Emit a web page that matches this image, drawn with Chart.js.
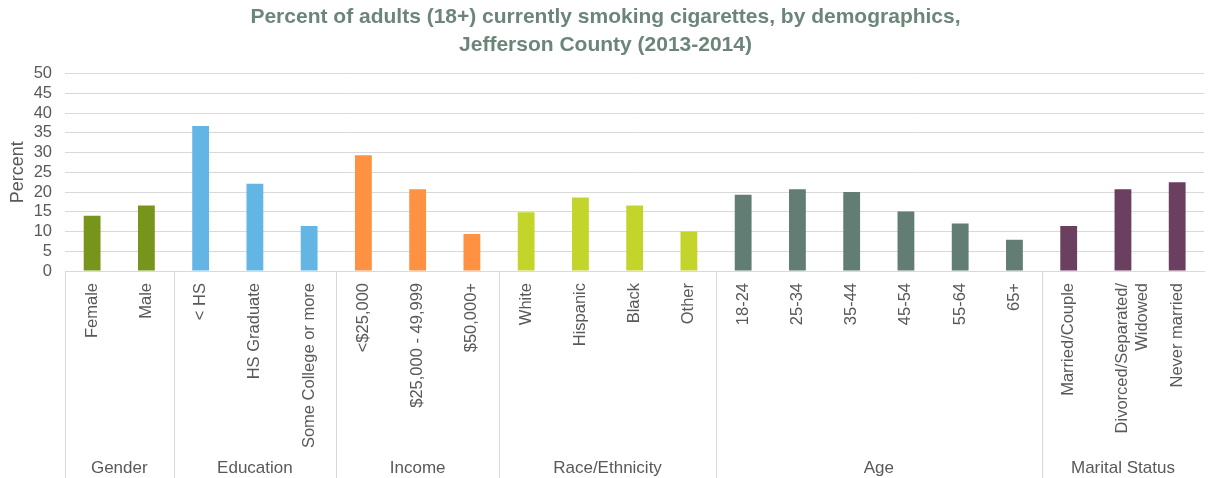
<!DOCTYPE html>
<html>
<head>
<meta charset="utf-8">
<script src="https://cdn.jsdelivr.net/npm/chart.js@4/dist/chart.umd.min.js"></script>
<style>
  html, body { margin: 0; padding: 0; background: #fff; }
  #wrap { width: 1209px; height: 478px; }
</style>
</head>
<body>
<div id="wrap"><canvas id="smokingChart"></canvas></div>
<script>
// categories, values and groups
const categories = [
  "Female", "Male",
  "< HS", "HS Graduate", "Some College or more",
  "<$25,000", "$25,000 - 49,999", "$50,000+",
  "White", "Hispanic", "Black", "Other",
  "18-24", "25-34", "35-44", "45-54", "55-64", "65+",
  "Married/Couple", ["Divorced/Separated/", "Widowed"], "Never married"
];
const percentSmoking = [
  14.0, 16.6,
  36.7, 22.1, 11.4,
  29.3, 20.7, 9.4,
  14.9, 18.6, 16.6, 10.0,
  19.3, 20.7, 20.0, 15.1, 12.0, 7.9,
  11.4, 20.7, 22.5
];
const groupNames = ["Gender", "Education", "Income", "Race/Ethnicity", "Age", "Marital Status"];
const groupSizes = [2, 3, 3, 4, 6, 3];
const groupColors = ["#77941b", "#63b6e4", "#ff9142", "#c3d52a", "#627d73", "#6a3f5f"];
const yTicks = [0, 5, 10, 15, 20, 25, 30, 35, 40, 45, 50];

const FONT = "'Liberation Sans', Arial, sans-serif";

// one colour per bar, from its group
const barColors = [];
groupSizes.forEach((n, g) => {
  for (let i = 0; i < n; i++) barColors.push(groupColors[g]);
});

// group labels + separators under the axis
const groupAxisPlugin = {
  id: "groupAxis",
  afterDraw(chart) {
    const ctx = chart.ctx;
    const x = chart.scales.x;
    const area = chart.chartArea;
    const half = (x.getPixelForValue(1) - x.getPixelForValue(0)) / 2;
    const bottom = chart.height;
    ctx.save();
    ctx.strokeStyle = "#d9d9d9";
    ctx.lineWidth = 1;
    ctx.fillStyle = "#595959";
    ctx.font = "17px " + FONT;
    ctx.textAlign = "center";
    ctx.textBaseline = "middle";
    let start = 0;
    groupSizes.forEach((n, g) => {
      const left = x.getPixelForValue(start) - half;
      const right = x.getPixelForValue(start + n - 1) + half;
      ctx.beginPath();
      ctx.moveTo(Math.round(left) + 0.5, area.bottom);
      ctx.lineTo(Math.round(left) + 0.5, bottom);
      ctx.stroke();
      ctx.fillText(groupNames[g], (left + right) / 2, 468);
      start += n;
    });
    ctx.restore();
  }
};

const ctx = document.getElementById("smokingChart").getContext("2d");
new Chart(ctx, {
  type: "bar",
  data: {
    labels: categories,
    datasets: [{
      data: percentSmoking,
      backgroundColor: barColors,
      borderWidth: 0,
      categoryPercentage: 1,
      barPercentage: 0.31
    }]
  },
  options: {
    responsive: true,
    maintainAspectRatio: false,
    animation: false,
    // the plot runs a little past the right edge in the original
    layout: { padding: { left: 0, top: 0, bottom: 0, right: -2 } },
    plugins: {
      legend: { display: false },
      tooltip: { enabled: false },
      title: {
        display: true,
        text: ["Percent of adults (18+) currently smoking cigarettes, by demographics,", "Jefferson County (2013-2014)"],
        color: "#6b8579",
        font: { family: FONT, size: 21, weight: "bold", lineHeight: 1.3 },
        padding: { top: 4, bottom: 15 }
      }
    },
    scales: {
      x: {
        grid: { display: false, drawTicks: false },
        border: { display: true, color: "#d9d9d9" },
        ticks: {
          autoSkip: false,
          maxRotation: 90,
          minRotation: 90,
          padding: 12,
          color: "#595959",
          font: { family: FONT, size: 16.5 }
        },
        afterFit(scale) { scale.height = 207; }
      },
      y: {
        min: 0,
        max: 50,
        afterBuildTicks(scale) { scale.ticks = yTicks.map(v => ({ value: v })); },
        grid: { color: "#d9d9d9", drawTicks: false },
        border: { display: false },
        ticks: {
          autoSkip: false,
          padding: 13,
          color: "#595959",
          font: { family: FONT, size: 16.5 }
        },
        title: {
          display: true,
          text: "Percent",
          color: "#595959",
          font: { family: FONT, size: 18 },
          padding: { top: 7, bottom: 0 }
        },
        afterFit(scale) { scale.width = 65; }
      }
    }
  },
  plugins: [groupAxisPlugin]
});
</script>
</body>
</html>
